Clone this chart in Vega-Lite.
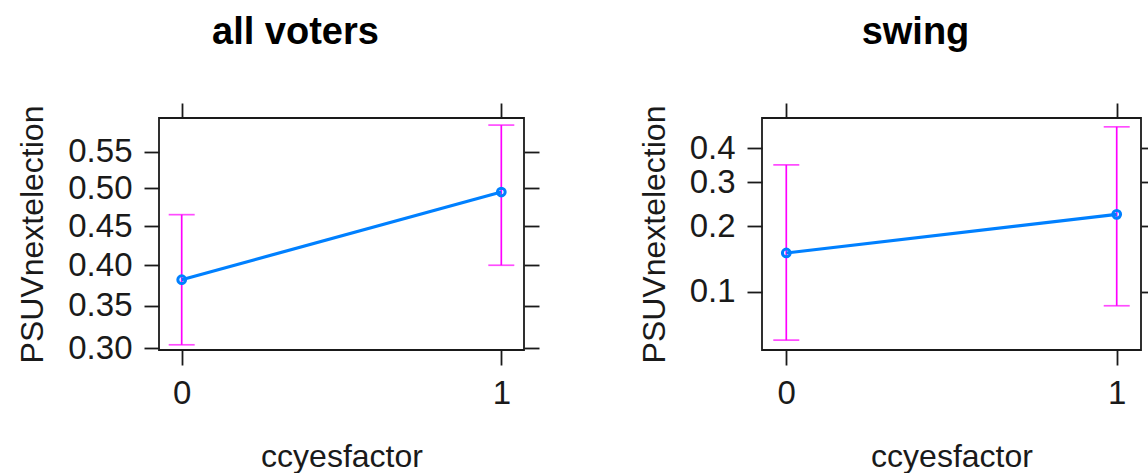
{
  "$schema": "https://vega.github.io/schema/vega-lite/v6.json",
  "autosize": {"type": "pad"},
  "padding": {"left": 15, "top": 13, "right": 0, "bottom": 0},
  "datasets": {
    "all_voters": [
      {"ccyesfactor": 0, "fit": 0.382, "lower": 0.304, "upper": 0.465},
      {"ccyesfactor": 1, "fit": 0.495, "lower": 0.400, "upper": 0.587}
    ],
    "swing": [
      {"ccyesfactor": 0, "fit": 0.153, "lower": 0.055, "upper": 0.348},
      {"ccyesfactor": 1, "fit": 0.224, "lower": 0.085, "upper": 0.474}
    ]
  },
  "config": {
    "font": "Liberation Sans",
    "view": {"stroke": "#1a1a1a", "strokeWidth": 1.8},
    "axis": {
      "domain": false,
      "grid": false,
      "tickColor": "#1a1a1a",
      "tickWidth": 1.8,
      "tickSize": 15,
      "labelFont": "Liberation Sans",
      "labelFontSize": 33,
      "labelColor": "#1a1a1a",
      "labelPadding": 12,
      "titleFont": "Liberation Sans",
      "titleFontSize": 32,
      "titleFontWeight": "normal",
      "titleColor": "#1a1a1a"
    },
    "title": {"font": "Liberation Sans", "fontSize": 38, "fontWeight": "bold", "color": "#000000"}
  },
  "bounds": "flush",
  "spacing": 238,
  "hconcat": [
    {
      "title": {"text": "all voters", "anchor": "middle", "frame": "group", "dx": -46, "offset": 20, "baseline": "alphabetic"},
      "width": 365,
      "height": 232,
      "data": {"name": "all_voters"},
      "layer": [
        {
          "mark": {"type": "rule", "color": "#ff00ff", "strokeWidth": 1.7},
          "encoding": {
            "x": {"field": "ccyesfactor", "type": "quantitative", "scale": {"domain": [-0.071, 1.071], "nice": false, "zero": false},
                  "axis": {"orient": "bottom", "values": [0, 1], "format": "d", "title": "ccyesfactor", "titlePadding": 31}},
            "y": {"field": "lower", "type": "quantitative", "scale": {"type": "pow", "exponent": 0.7, "domain": [0.298, 0.597], "nice": false, "zero": false},
                  "axis": {"orient": "left", "values": [0.30, 0.35, 0.40, 0.45, 0.50, 0.55], "format": ".2f", "title": "PSUVnextelection", "titlePadding": 18}},
            "y2": {"field": "upper"}
          }
        },
        {
          "mark": {"type": "tick", "orient": "horizontal", "color": "#ff00ff", "size": 26, "thickness": 1.7},
          "encoding": {
            "x": {"field": "ccyesfactor", "type": "quantitative", "axis": null},
            "y": {"field": "lower", "type": "quantitative", "axis": null}
          }
        },
        {
          "mark": {"type": "tick", "orient": "horizontal", "color": "#ff00ff", "size": 26, "thickness": 1.7},
          "encoding": {
            "x": {"field": "ccyesfactor", "type": "quantitative", "axis": null},
            "y": {"field": "upper", "type": "quantitative", "axis": null}
          }
        },
        {
          "mark": {"type": "line", "color": "#0080ff", "strokeWidth": 3.2},
          "encoding": {
            "x": {"field": "ccyesfactor", "type": "quantitative", "axis": null},
            "y": {"field": "fit", "type": "quantitative", "axis": null}
          }
        },
        {
          "mark": {"type": "point", "shape": "circle", "filled": false, "color": "#0080ff", "strokeWidth": 3, "size": 60, "opacity": 1},
          "encoding": {
            "x": {"field": "ccyesfactor", "type": "quantitative", "axis": null},
            "y": {"field": "fit", "type": "quantitative", "axis": null}
          }
        },
        {
          "mark": {"type": "point", "opacity": 0},
          "encoding": {
            "x": {"field": "ccyesfactor", "type": "quantitative", "axis": {"orient": "top", "values": [0, 1], "labels": false, "title": null}},
            "y": {"field": "fit", "type": "quantitative", "axis": {"orient": "right", "values": [0.30, 0.35, 0.40, 0.45, 0.50, 0.55], "labels": false, "title": null}}
          }
        }
      ],
      "resolve": {"axis": {"x": "independent", "y": "independent"}}
    },
    {
      "title": {"text": "swing", "anchor": "middle", "frame": "group", "dx": -36, "offset": 20, "baseline": "alphabetic"},
      "width": 379,
      "height": 232,
      "data": {"name": "swing"},
      "layer": [
        {
          "mark": {"type": "rule", "color": "#ff00ff", "strokeWidth": 1.7},
          "encoding": {
            "x": {"field": "ccyesfactor", "type": "quantitative", "scale": {"domain": [-0.0735, 1.0735], "nice": false, "zero": false},
                  "axis": {"orient": "bottom", "values": [0, 1], "format": "d", "title": "ccyesfactor", "titlePadding": 31}},
            "y": {"field": "lower", "type": "quantitative", "scale": {"type": "pow", "exponent": 0.25, "domain": [0.0481, 0.5075], "nice": false, "zero": false},
                  "axis": {"orient": "left", "values": [0.1, 0.2, 0.3, 0.4], "format": ".1f", "title": "PSUVnextelection", "titlePadding": 18}},
            "y2": {"field": "upper"}
          }
        },
        {
          "mark": {"type": "tick", "orient": "horizontal", "color": "#ff00ff", "size": 26, "thickness": 1.7},
          "encoding": {
            "x": {"field": "ccyesfactor", "type": "quantitative", "axis": null},
            "y": {"field": "lower", "type": "quantitative", "axis": null}
          }
        },
        {
          "mark": {"type": "tick", "orient": "horizontal", "color": "#ff00ff", "size": 26, "thickness": 1.7},
          "encoding": {
            "x": {"field": "ccyesfactor", "type": "quantitative", "axis": null},
            "y": {"field": "upper", "type": "quantitative", "axis": null}
          }
        },
        {
          "mark": {"type": "line", "color": "#0080ff", "strokeWidth": 3.2},
          "encoding": {
            "x": {"field": "ccyesfactor", "type": "quantitative", "axis": null},
            "y": {"field": "fit", "type": "quantitative", "axis": null}
          }
        },
        {
          "mark": {"type": "point", "shape": "circle", "filled": false, "color": "#0080ff", "strokeWidth": 3, "size": 60, "opacity": 1},
          "encoding": {
            "x": {"field": "ccyesfactor", "type": "quantitative", "axis": null},
            "y": {"field": "fit", "type": "quantitative", "axis": null}
          }
        },
        {
          "mark": {"type": "point", "opacity": 0},
          "encoding": {
            "x": {"field": "ccyesfactor", "type": "quantitative", "axis": {"orient": "top", "values": [0, 1], "labels": false, "title": null}},
            "y": {"field": "fit", "type": "quantitative", "axis": {"orient": "right", "values": [0.1, 0.2, 0.3, 0.4], "labels": false, "title": null}}
          }
        }
      ],
      "resolve": {"axis": {"x": "independent", "y": "independent"}}
    }
  ]
}
